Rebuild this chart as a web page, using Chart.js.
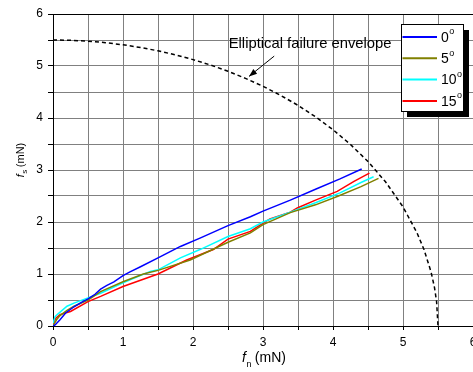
<!DOCTYPE html>
<html>
<head>
<meta charset="utf-8">
<script src="https://cdn.jsdelivr.net/npm/chart.js@4.4.1/dist/chart.umd.min.js"></script>
<style>
  html, body { margin: 0; padding: 0; background: #fff; }
</style>
</head>
<body>
<canvas id="mycanvas" width="473" height="372"></canvas>
<script>
// tilt angles (degrees) and their colours
var angles = ['0', '5', '10', '15'];
var colors = ['#0000ff', '#808000', '#00ffff', '#ff0000'];

// normal force fn vs shear force fs, both in mN
var fn0 = [0, 0.03, 0.1, 0.18, 0.3, 0.4, 0.5, 0.6, 0.68, 0.77, 0.87, 1.0, 1.1, 1.25, 1.5, 1.82, 2.1, 2.5, 2.82, 3.0, 3.39, 3.75, 4.1, 4.41];
var fs0 = [0, 0.02, 0.12, 0.25, 0.37, 0.45, 0.52, 0.61, 0.71, 0.78, 0.85, 0.97, 1.04, 1.14, 1.31, 1.53, 1.69, 1.93, 2.1, 2.21, 2.42, 2.63, 2.83, 3.02];

var fn5 = [0, 0.05, 0.1, 0.2, 0.3, 0.5, 0.68, 1.0, 1.29, 1.5, 1.96, 2.5, 2.82, 3.0, 3.39, 3.75, 4.06, 4.4, 4.65];
var fs5 = [0, 0.12, 0.2, 0.3, 0.38, 0.5, 0.66, 0.85, 1.0, 1.07, 1.27, 1.61, 1.79, 1.95, 2.18, 2.33, 2.49, 2.68, 2.84];

var fn10 = [0, 0.03, 0.06, 0.2, 0.3, 0.5, 0.68, 1.0, 1.39, 1.5, 1.82, 2.1, 2.5, 2.82, 3.0, 3.39, 3.75, 4.1, 4.4, 4.58];
var fs10 = [0.05, 0.18, 0.22, 0.38, 0.44, 0.54, 0.63, 0.83, 1.05, 1.08, 1.31, 1.47, 1.72, 1.87, 2.0, 2.19, 2.37, 2.56, 2.76, 2.87];

var fn15 = [0, 0.02, 0.04, 0.1, 0.25, 0.5, 0.68, 1.0, 1.5, 1.91, 2.1, 2.29, 2.5, 2.82, 3.0, 3.1, 3.39, 3.49, 3.75, 4.06, 4.3, 4.52];
var fs15 = [0.02, 0.1, 0.15, 0.22, 0.28, 0.47, 0.57, 0.76, 1.0, 1.27, 1.37, 1.47, 1.67, 1.82, 1.98, 2.06, 2.19, 2.27, 2.42, 2.59, 2.78, 2.94];

// failure envelope (radius 5.5 mN)
var envFn = [0, 0.25, 0.5, 0.75, 1, 1.25, 1.5, 1.75, 2, 2.25, 2.5, 2.75, 3, 3.25, 3.5, 3.75, 4, 4.25, 4.5, 4.75, 5, 5.2, 5.3, 5.4, 5.45, 5.48, 5.5];
var envFs = [5.5, 5.494, 5.477, 5.449, 5.408, 5.356, 5.292, 5.214, 5.123, 5.019, 4.899, 4.763, 4.610, 4.437, 4.243, 4.023, 3.775, 3.491, 3.162, 2.773, 2.291, 1.792, 1.470, 1.044, 0.740, 0.469, 0];

var xTicks = [0, 1, 2, 3, 4, 5, 6];
var envLabel = 'Elliptical failure envelope';

function pts(xs, ys) {
  var out = [];
  for (var i = 0; i < xs.length; i++) out.push({x: xs[i], y: ys[i]});
  return out;
}

var series = [[fn0, fs0], [fn5, fs5], [fn10, fs10], [fn15, fs15]];
var datasets = [];
for (var i in series) {
  datasets.push({
    label: angles[i],
    data: pts(series[i][0], series[i][1]),
    borderColor: colors[i],
    borderWidth: 1.5,
    pointRadius: 0,
    tension: 0
  });
}
datasets.push({
  label: 'envelope',
  data: pts(envFn, envFs),
  borderColor: '#000',
  borderWidth: 1.5,
  borderDash: [4, 3],
  pointRadius: 0,
  tension: 0
});

var FONT = '"Liberation Sans", Arial, sans-serif';

// axis titles, x labels, legend box and the envelope callout
var decor = {
  id: 'decor',
  afterDraw: function(chart) {
    var ctx = chart.ctx, a = chart.chartArea;
    var xs = chart.scales.x, ys = chart.scales.y;
    ctx.save();

    // top frame line
    ctx.strokeStyle = '#000';
    ctx.lineWidth = 1;
    ctx.beginPath();
    ctx.moveTo(a.left, a.top + 0.5);
    ctx.lineTo(a.right, a.top + 0.5);
    ctx.stroke();

    // x tick labels
    ctx.fillStyle = '#000';
    ctx.font = '12px ' + FONT;
    ctx.textAlign = 'center';
    ctx.textBaseline = 'alphabetic';
    xTicks.forEach(function(v) {
      ctx.fillText(String(v), xs.getPixelForValue(v), a.bottom + 20);
    });

    // x title: f_n (mN)
    ctx.textAlign = 'left';
    var big = '14px ' + FONT, bigI = 'italic 14px ' + FONT, sub = '9px ' + FONT;
    ctx.font = bigI; var wf = ctx.measureText('f').width;
    ctx.font = sub; var wn = ctx.measureText('n').width;
    ctx.font = big; var wr = ctx.measureText(' (mN)').width;
    var tx = (a.left + a.right) / 2 - (wf + wn + wr) / 2 + 1, ty = a.bottom + 36;
    ctx.font = bigI; ctx.fillText('f', tx, ty);
    ctx.font = sub; ctx.fillText('n', tx + wf + 0.5, ty + 5);
    ctx.font = big; ctx.fillText(' (mN)', tx + wf + wn, ty);

    // y title: f_s (mN)
    ctx.save();
    ctx.translate(24, (a.top + a.bottom) / 2 - 10);
    ctx.rotate(-Math.PI / 2);
    var mid = '11px ' + FONT, midI = 'italic 11px ' + FONT, sub2 = '8px ' + FONT;
    ctx.font = midI; wf = ctx.measureText('f').width;
    ctx.font = sub2; var ws = ctx.measureText('s').width;
    ctx.font = mid; wr = ctx.measureText(' (mN)').width;
    var sx = -(wf + ws + wr) / 2;
    ctx.font = midI; ctx.fillText('f', sx, 0);
    ctx.font = sub2; ctx.fillText('s', sx + wf + 0.5, 3);
    ctx.font = mid; ctx.fillText(' (mN)', sx + wf + ws, 0);
    ctx.restore();

    // envelope callout
    ctx.font = '14.8px ' + FONT;
    ctx.fillText(envLabel, xs.getPixelForValue(2.51), ys.getPixelForValue(5.35));
    var x1 = xs.getPixelForValue(3.16), y1 = ys.getPixelForValue(5.19);
    var x2 = xs.getPixelForValue(2.8), y2 = ys.getPixelForValue(4.8);
    ctx.strokeStyle = '#000';
    ctx.lineWidth = 1;
    ctx.beginPath(); ctx.moveTo(x1, y1); ctx.lineTo(x2, y2); ctx.stroke();
    var ang = Math.atan2(y2 - y1, x2 - x1), hl = 8, hw = 3;
    ctx.beginPath();
    ctx.moveTo(x2, y2);
    ctx.lineTo(x2 - hl * Math.cos(ang) + hw * Math.sin(ang), y2 - hl * Math.sin(ang) - hw * Math.cos(ang));
    ctx.lineTo(x2 - hl * Math.cos(ang) - hw * Math.sin(ang), y2 - hl * Math.sin(ang) + hw * Math.cos(ang));
    ctx.closePath();
    ctx.fill();

    // legend with drop shadow
    var lx = 401, ly = 24, lw = 62, lh = 87;
    ctx.fillStyle = '#000';
    ctx.fillRect(lx + 6, ly + 6, lw, lh);
    ctx.fillStyle = '#fff';
    ctx.fillRect(lx, ly, lw, lh);
    ctx.strokeStyle = '#000';
    ctx.strokeRect(lx + 0.5, ly + 0.5, lw, lh);
    angles.forEach(function(lab, k) {
      var yy = ly + 13 + k * 21.3;
      ctx.strokeStyle = colors[k];
      ctx.lineWidth = 2;
      ctx.beginPath(); ctx.moveTo(lx + 1.5, yy); ctx.lineTo(lx + 36, yy); ctx.stroke();
      ctx.fillStyle = '#000';
      ctx.font = '14px ' + FONT;
      ctx.textBaseline = 'middle';
      ctx.fillText(lab, lx + 40, yy + 1);
      var w = ctx.measureText(lab).width;
      ctx.font = '9px ' + FONT;
      ctx.fillText('o', lx + 40 + w + 0.5, yy - 5);
    });
    ctx.restore();
  }
};

var ctx = document.getElementById('mycanvas');

var chart = new Chart(ctx, {
  type: 'line',
  data: { datasets: datasets },
  plugins: [decor],
  options: {
    responsive: false,
    animation: false,
    devicePixelRatio: 1,
    layout: { padding: { top: 14, right: 0, left: 0, bottom: 0 } },
    plugins: { legend: { display: false }, tooltip: { enabled: false } },
    scales: {
      x: {
        type: 'linear', min: 0, max: 6,
        ticks: { stepSize: 0.5, display: false },
        grid: { color: '#808080', lineWidth: 1, tickColor: '#000', tickLength: 4 },
        border: { color: '#000', width: 1 },
        afterFit: function(s) { s.height = 46; }
      },
      y: {
        type: 'linear', min: 0, max: 6,
        ticks: {
          stepSize: 0.5, color: '#000', padding: 5,
          font: { family: FONT, size: 12 },
          callback: function(v) { return v % 1 === 0 ? v : ''; }
        },
        grid: { color: '#808080', lineWidth: 1, tickColor: '#000', tickLength: 5 },
        border: { color: '#000', width: 1 },
        afterFit: function(s) { s.width = 53; }
      }
    }
  }
});
</script>
</body>
</html>
